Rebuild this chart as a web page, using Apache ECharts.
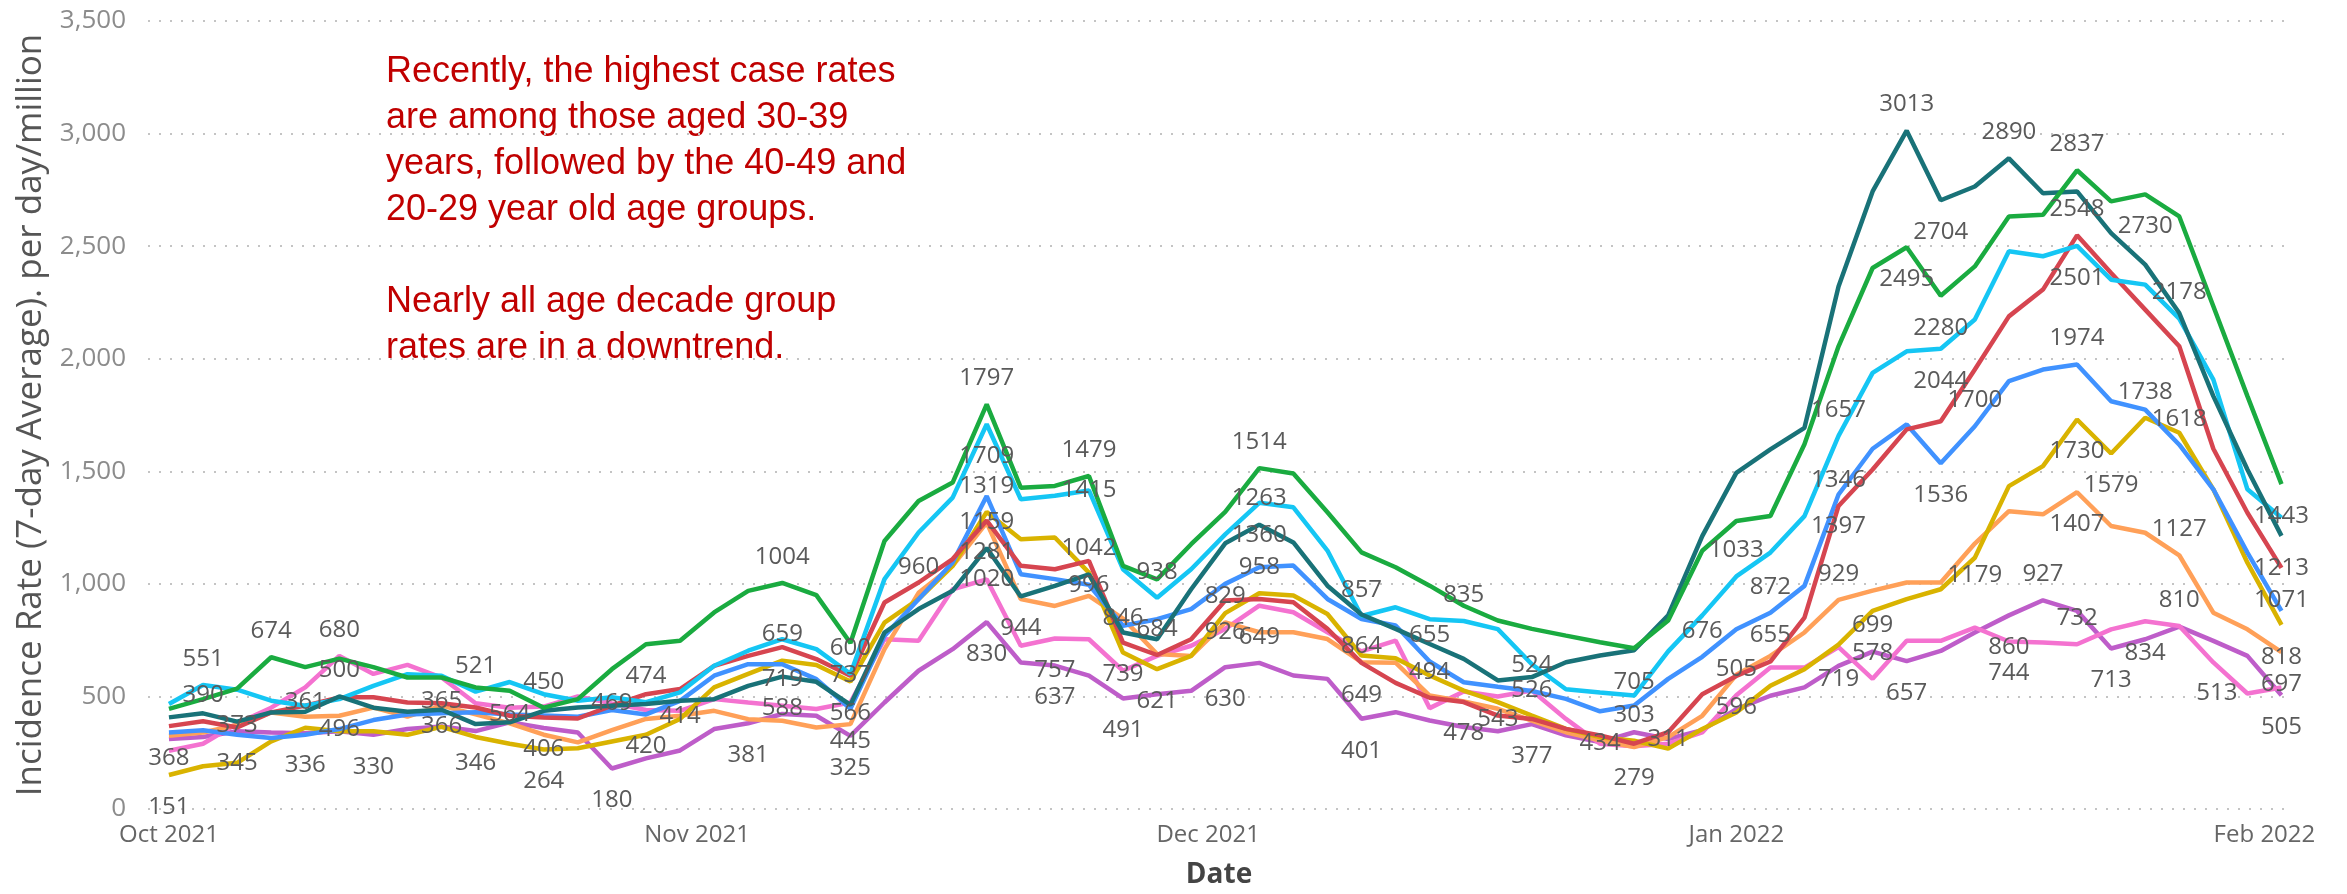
<!DOCTYPE html>
<html>
<head>
<meta charset="utf-8">
<title>Incidence rate by age group</title>
<script src="https://cdn.jsdelivr.net/npm/echarts@6/dist/echarts.min.js"></script>
<style>
  html, body { margin: 0; padding: 0; background: #fff; }
  #chart { width: 2347px; height: 894px; }
</style>
</head>
<body>
<div id="chart"></div>
<script>
// one reading every second day, 1 Oct 2021 .. 2 Feb 2022
const dates = [
  '2021-10-01','2021-10-03','2021-10-05','2021-10-07','2021-10-09','2021-10-11','2021-10-13','2021-10-15',
  '2021-10-17','2021-10-19','2021-10-21','2021-10-23','2021-10-25','2021-10-27','2021-10-29','2021-10-31',
  '2021-11-02','2021-11-04','2021-11-06','2021-11-08','2021-11-10','2021-11-12','2021-11-14','2021-11-16',
  '2021-11-18','2021-11-20','2021-11-22','2021-11-24','2021-11-26','2021-11-28','2021-11-30',
  '2021-12-02','2021-12-04','2021-12-06','2021-12-08','2021-12-10','2021-12-12','2021-12-14','2021-12-16',
  '2021-12-18','2021-12-20','2021-12-22','2021-12-24','2021-12-26','2021-12-28','2021-12-30',
  '2022-01-01','2022-01-03','2022-01-05','2022-01-07','2022-01-09','2022-01-11','2022-01-13','2022-01-15',
  '2022-01-17','2022-01-19','2022-01-21','2022-01-23','2022-01-25','2022-01-27','2022-01-29','2022-01-31',
  '2022-02-02'
];

const age30to39 = [445,488,535,674,630,668,630,584,584,540,525,450,488,621,732,747,873,969,1004,950,737,1190,1368,1450,1797,1427,1435,1479,1080,1020,1176,1320,1514,1490,1318,1140,1074,992,903,837,800,770,741,714,837,1147,1279,1301,1620,2055,2403,2495,2280,2410,2632,2639,2837,2699,2730,2632,2233,1834,1443];
const age20to29 = [407,425,388,429,432,500,450,432,441,377,385,436,451,459,466,481,488,547,588,565,462,784,888,969,1159,944,991,1042,784,754,976,1180,1263,1184,992,864,800,733,667,571,586,652,682,705,860,1212,1493,1597,1693,2321,2743,3013,2704,2765,2890,2735,2743,2558,2418,2203,1834,1508,1213];
const age40to49 = [466,551,530,481,459,488,547,599,592,521,564,510,481,496,474,518,636,703,754,710,600,1021,1228,1383,1709,1376,1391,1415,1065,938,1065,1220,1360,1340,1148,857,896,843,835,799,643,532,517,504,700,860,1033,1139,1301,1657,1937,2033,2044,2174,2477,2455,2501,2351,2329,2178,1907,1420,1294];
const age10to19 = [368,390,362,429,459,496,496,473,470,451,414,406,402,459,510,533,636,680,719,666,592,917,1006,1110,1281,1080,1065,1102,739,684,754,926,933,918,800,649,560,494,475,415,400,356,327,290,341,510,591,655,850,1346,1508,1686,1722,1952,2188,2307,2548,2381,2218,2055,1600,1316,1071];
const age50to59 = [340,350,330,315,330,355,395,420,425,430,420,415,410,440,420,480,592,643,643,577,445,769,932,1095,1390,1043,1021,996,814,843,888,1000,1074,1081,933,844,815,655,563,543,524,489,434,460,578,676,798,872,991,1397,1600,1708,1536,1700,1900,1952,1974,1811,1774,1618,1420,1139,880];
const age0to9 = [151,190,205,300,361,345,345,330,365,320,290,264,270,300,330,400,540,600,659,640,566,828,932,1080,1319,1198,1206,1050,695,621,680,870,958,948,866,682,670,593,526,475,415,356,319,303,268,355,429,547,621,730,880,932,976,1116,1434,1523,1730,1579,1738,1671,1420,1094,818];
const age60to69 = [325,340,373,429,410,414,450,410,459,420,380,330,296,350,400,414,436,399,392,362,377,710,960,1080,1272,932,902,947,846,688,680,829,785,785,755,652,650,504,478,445,393,341,305,275,319,414,596,680,784,929,970,1006,1006,1179,1323,1309,1407,1257,1227,1127,872,798,697];
const age80plus = [259,290,380,450,540,680,600,640,584,470,450,455,500,469,440,436,488,473,459,444,473,754,747,976,1020,725,757,754,614,680,725,800,903,874,785,700,748,448,522,500,526,400,290,279,290,340,505,628,628,719,578,747,747,806,744,739,732,798,834,813,651,513,540];
const age70to79 = [311,320,345,340,336,345,330,355,366,346,385,360,340,180,225,260,355,381,422,414,325,473,614,710,830,651,637,592,491,510,525,630,649,593,578,401,430,393,364,345,377,327,297,341,311,350,444,503,540,636,699,657,702,784,860,927,880,713,754,810,747,680,505];

const yTicks = [0, 500, 1000, 1500, 2000, 2500, 3000, 3500];
const monthTicks = ['2021-10-01', '2021-11-01', '2021-12-01', '2022-01-01', '2022-02-01'];
const monthNames = ['Jan','Feb','Mar','Apr','May','Jun','Jul','Aug','Sep','Oct','Nov','Dec'];

// which points carry a data label, and where it sits
const labelSpots = {
  '30-39': [[3,'top'],[11,'top'],[18,'top'],[20,'bottom'],[24,'top'],[27,'top'],[32,'top'],[51,'bottom'],[52,'bottom'],[56,'top'],[58,'bottom'],[62,'bottom']],
  '20-29': [[5,'top'],[18,'bottom'],[24,'top'],[25,'bottom'],[27,'top'],[32,'top'],[35,'bottom'],[43,'bottom'],[51,'top'],[52,'bottom'],[54,'top'],[62,'bottom']],
  '40-49': [[1,'top'],[9,'top'],[10,'bottom'],[14,'top'],[20,'top'],[24,'bottom'],[27,'inside'],[29,'top'],[32,'bottom'],[35,'top'],[38,'top'],[46,'top'],[49,'top'],[52,'bottom'],[56,'bottom'],[59,'top']],
  '10-19': [[0,'bottom'],[1,'top'],[5,'bottom'],[11,'bottom'],[18,'bottom'],[24,'bottom'],[28,'bottom'],[29,'top'],[31,'bottom'],[35,'bottom'],[37,'top'],[47,'top'],[49,'top'],[56,'top'],[62,'bottom']],
  '50-59': [[14,'bottom'],[20,'bottom'],[27,'inside'],[37,'top'],[39,'bottom'],[40,'top'],[42,'bottom'],[45,'top'],[47,'top'],[49,'bottom'],[52,'bottom'],[53,'top'],[56,'top'],[59,'top']],
  '0-9': [[0,'bottom'],[4,'top'],[8,'top'],[11,'bottom'],[18,'top'],[20,'bottom'],[24,'top'],[29,'bottom'],[32,'top'],[43,'top'],[56,'bottom'],[57,'bottom'],[58,'top'],[62,'bottom']],
  '60-69': [[2,'inside'],[15,'inside'],[22,'top'],[28,'inside'],[31,'top'],[38,'bottom'],[46,'bottom'],[49,'top'],[53,'bottom'],[56,'bottom'],[59,'top'],[62,'bottom']],
  '80+': [[5,'top'],[13,'inside'],[24,'inside'],[26,'bottom'],[40,'inside'],[43,'bottom'],[46,'top'],[49,'bottom'],[50,'top'],[54,'bottom'],[56,'top'],[58,'bottom'],[61,'left']],
  '70-79': [[2,'bottom'],[4,'bottom'],[6,'bottom'],[8,'inside'],[9,'bottom'],[13,'bottom'],[17,'bottom'],[20,'bottom'],[24,'bottom'],[26,'bottom'],[28,'bottom'],[31,'bottom'],[32,'top'],[35,'bottom'],[40,'bottom'],[44,'inside'],[50,'top'],[51,'bottom'],[54,'bottom'],[55,'top'],[57,'bottom'],[59,'top'],[62,'bottom']]
};

const groups = [
  { name: '70-79', color: '#BE5DC9', values: age70to79 },
  { name: '80+',   color: '#F472D0', values: age80plus },
  { name: '60-69', color: '#FFA058', values: age60to69 },
  { name: '0-9',   color: '#D9B300', values: age0to9 },
  { name: '50-59', color: '#4092FF', values: age50to59 },
  { name: '10-19', color: '#D64550', values: age10to19 },
  { name: '40-49', color: '#15C6F4', values: age40to49 },
  { name: '20-29', color: '#197278', values: age20to29 },
  { name: '30-39', color: '#1AAB40', values: age30to39 }
];

const DAY = 86400000;
const firstDay = new Date(2021, 9, 1).getTime();
const toTime = s => { const p = s.split('-'); return new Date(+p[0], +p[1] - 1, +p[2]).getTime(); };
const labelDistance = { top: 14, bottom: 20, inside: 0, left: 10 };

function buildData(g) {
  const spots = {};
  (labelSpots[g.name] || []).forEach(([i, pos]) => { spots[i] = pos; });
  return dates.map((d, i) => {
    const item = { value: [toTime(d), g.values[i]] };
    if (spots[i]) {
      item.label = { show: true, position: spots[i], distance: labelDistance[spots[i]] };
    }
    return item;
  });
}

const chart = echarts.init(document.getElementById('chart'));
chart.setOption({
  animation: false,
  grid: { left: 148, right: 57, top: 21, bottom: 84 },
  xAxis: {
    type: 'value',
    min: firstDay - 1.23 * DAY,
    max: firstDay + 124.5 * DAY,
    name: 'Date',
    nameLocation: 'middle',
    nameGap: 52,
    nameTextStyle: { fontFamily: 'Open Sans', fontSize: 28, fontWeight: 'bold', color: '#444' },
    axisLine: { show: false },
    axisTick: { show: false },
    splitLine: { show: false },
    axisLabel: {
      customValues: monthTicks.map(toTime),
      formatter: v => { const d = new Date(v); return monthNames[d.getMonth()] + ' ' + d.getFullYear(); },
      fontFamily: 'Open Sans',
      fontSize: 24,
      color: '#666',
      margin: 14
    }
  },
  yAxis: {
    type: 'value',
    min: yTicks[0],
    max: yTicks[yTicks.length - 1],
    interval: 500,
    name: 'Incidence Rate (7-day Average). per day/million',
    nameLocation: 'middle',
    nameGap: 97,
    nameTextStyle: { fontFamily: 'Open Sans', fontSize: 35, color: '#555' },
    axisLine: { show: false },
    axisTick: { show: false },
    axisLabel: {
      formatter: v => v.toLocaleString('en-US'),
      fontFamily: 'Open Sans',
      fontSize: 26,
      color: '#8c8c8c',
      margin: 22
    },
    splitLine: { lineStyle: { type: [2, 9], color: '#c4c4c4', width: 2 } }
  },
  graphic: [{
    type: 'text',
    left: 386,
    top: 49,
    style: {
      text: 'Recently, the highest case rates\nare among those aged 30-39\nyears, followed by the 40-49 and\n20-29 year old age groups.\n\nNearly all age decade group\nrates are in a downtrend.',
      fontFamily: 'Liberation Sans',
      fontSize: 36,
      lineHeight: 46,
      fill: '#C00000'
    }
  }],
  series: groups.map(g => ({
    name: g.name,
    type: 'line',
    data: buildData(g),
    color: g.color,
    lineStyle: { width: 4.5, color: g.color },
    symbol: 'circle',
    symbolSize: 0,
    showSymbol: true,
    showAllSymbol: true,
    emphasis: { disabled: true },
    label: { show: false, fontFamily: 'Open Sans', fontSize: 24, color: '#5a5a5a' }
  }))
});
</script>
</body>
</html>
